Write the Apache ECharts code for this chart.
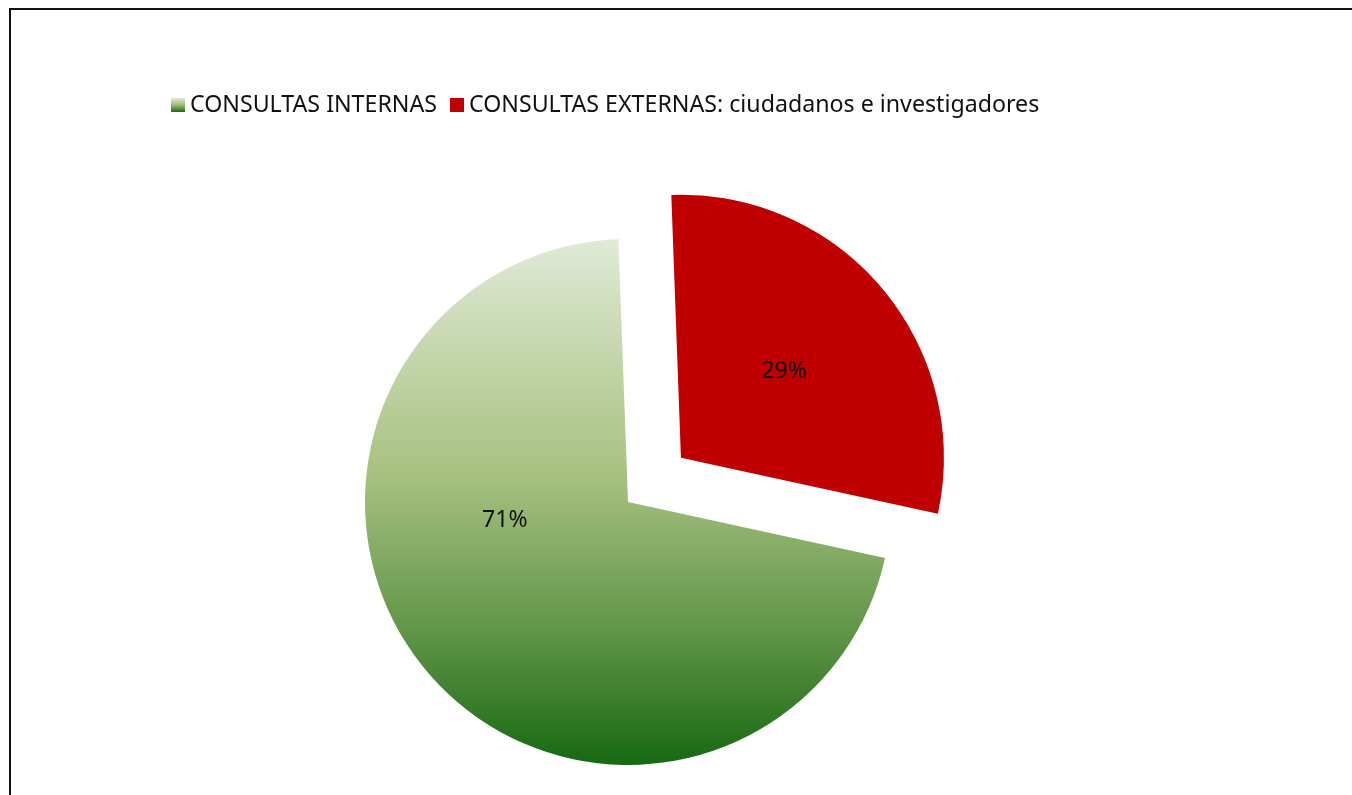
<!DOCTYPE html>
<html>
<head>
<meta charset="utf-8">
<script src="https://cdn.jsdelivr.net/npm/echarts@6/dist/echarts.min.js"></script>
<style>
  html, body { margin: 0; padding: 0; width: 1352px; height: 795px; overflow: hidden; background: #fff; }
  #chart { position: absolute; left: 0; top: 0; width: 1352px; height: 795px; }
  .frame { position: absolute; left: 9px; top: 8px; width: 2000px; height: 2000px;
           border: 2px solid #111; box-sizing: border-box; pointer-events: none; }
</style>
</head>
<body>
<div class="frame"></div>
<div id="chart"></div>
<script>
// Categories and their share of consultations (percent)
const categories = [
  'CONSULTAS INTERNAS',
  'CONSULTAS EXTERNAS: ciudadanos e investigadores'
];
const values = [71, 29];

const chart = echarts.init(document.getElementById('chart'), null, { renderer: 'canvas' });

const greenFill = new echarts.graphic.LinearGradient(0, 0, 0, 1, [
  { offset: 0, color: '#e0ead6' },
  { offset: 0.45, color: '#a7c180' },
  { offset: 0.75, color: '#5f9447' },
  { offset: 1, color: '#166912' }
]);
const redFill = '#c00000';

chart.setOption({
  animation: false,
  backgroundColor: 'transparent',
  legend: {
    data: categories,
    left: 166,
    top: 88,
    itemWidth: 14,
    itemHeight: 14,
    itemGap: 13,
    icon: 'rect',
    selectedMode: false,
    textStyle: {
      fontFamily: '"Noto Sans", Lato, sans-serif',
      fontSize: 23.2,
      color: '#111',
      lineHeight: 24
    }
  },
  series: [{
    type: 'pie',
    center: [628, 502],
    radius: [0, 263],
    startAngle: -12.3,
    clockwise: true,
    selectedMode: 'single',
    selectedOffset: 69,
    avoidLabelOverlap: false,
    emphasis: { disabled: true },
    label: {
      show: true,
      position: 'inside',
      formatter: '{c}%',
      fontFamily: '"Noto Sans", Lato, sans-serif',
      fontSize: 23,
      color: '#111'
    },
    labelLine: { show: false },
    itemStyle: { borderWidth: 0 },
    data: [
      {
        name: categories[0],
        value: values[0],
        itemStyle: { color: greenFill },
        label: { offset: [-20, -68] }
      },
      {
        name: categories[1],
        value: values[1],
        selected: true,
        itemStyle: { color: redFill },
        label: { offset: [7, 2] }
      }
    ]
  }]
});
</script>
</body>
</html>
